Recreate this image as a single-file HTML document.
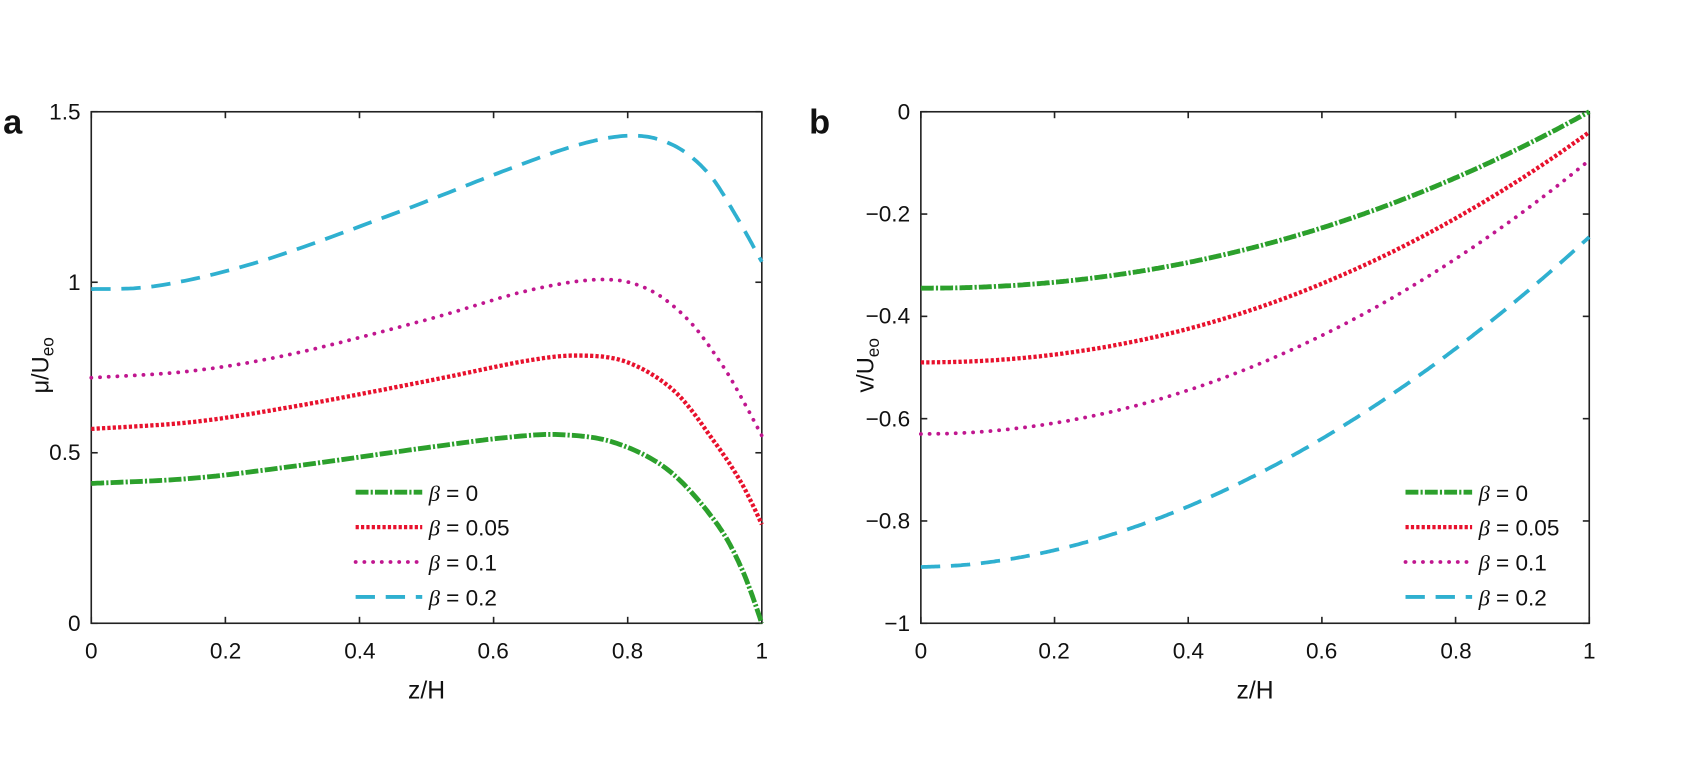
<!DOCTYPE html><html><head><style>body{margin:0;background:#fff}svg{display:block}text{font-family:"Liberation Sans",sans-serif;fill:#111}</style></head><body>
<svg id="s" width="1685" height="765" xmlns="http://www.w3.org/2000/svg">
<g id="root" transform="translate(1,0) scale(1.0746)">
<g stroke="#222" stroke-width="1.5" fill="none">
<rect x="84" y="104" width="624" height="476"/>
<rect x="856" y="104" width="622" height="476"/>
</g>
<g id="ticks" stroke="#222" stroke-width="1.5"></g>
<g font-size="21" text-anchor="middle">
<text x="84" y="613">0</text><text x="209" y="613">0.2</text><text x="334" y="613">0.4</text><text x="458" y="613">0.6</text><text x="583" y="613">0.8</text><text x="708" y="613">1</text>
<text x="856" y="613">0</text><text x="980" y="613">0.2</text><text x="1105" y="613">0.4</text><text x="1229" y="613">0.6</text><text x="1354" y="613">0.8</text><text x="1478" y="613">1</text>
<text x="396" y="650" font-size="23">z/H</text><text x="1167" y="650" font-size="23">z/H</text>
</g>
<g font-size="21" text-anchor="end">
<text x="74" y="111">1.5</text><text x="74" y="270">1</text><text x="74" y="428">0.5</text><text x="74" y="587">0</text>
<text x="846" y="111">0</text><text x="846" y="206">−0.2</text><text x="846" y="301">−0.4</text><text x="846" y="397">−0.6</text><text x="846" y="492">−0.8</text><text x="846" y="587">−1</text>
</g>
<text transform="translate(44,340) rotate(-90)" font-size="22" text-anchor="middle">μ/U<tspan font-size="16" dy="5">eo</tspan></text>
<text transform="translate(812,340) rotate(-90)" font-size="22" text-anchor="middle">v/U<tspan font-size="16" dy="5">eo</tspan></text>
<text x="2" y="124" font-size="32" font-weight="bold">a</text>
<text x="752" y="124" font-size="32" font-weight="bold">b</text>
<g id="curves" fill="none"></g>
<g font-size="21"><g id="leg"></g></g>
</g>
</svg>
<script>
const NS="http://www.w3.org/2000/svg";
function el(p,t,a){const e=document.createElementNS(NS,t);for(const k in a)e.setAttribute(k,a[k]);p.appendChild(e);return e;}
const tk=document.getElementById('ticks');
for(let i=0;i<=5;i++){const x=84+i*124.8,x2=856+i*124.4;
el(tk,'line',{x1:x,y1:580,x2:x,y2:574});el(tk,'line',{x1:x,y1:104,x2:x,y2:110});
el(tk,'line',{x1:x2,y1:580,x2:x2,y2:574});el(tk,'line',{x1:x2,y1:104,x2:x2,y2:110});}
for(let i=0;i<=3;i++){const y=580-i*158.67;el(tk,'line',{x1:84,y1:y,x2:90,y2:y});el(tk,'line',{x1:708,y1:y,x2:702,y2:y});}
for(let i=0;i<=5;i++){const y=104+i*95.2;el(tk,'line',{x1:856,y1:y,x2:862,y2:y});el(tk,'line',{x1:1478,y1:y,x2:1472,y2:y});}
function cr(pts,n){const out=[];for(let i=0;i<pts.length-1;i++){const p0=pts[Math.max(0,i-1)],p1=pts[i],p2=pts[i+1],p3=pts[Math.min(pts.length-1,i+2)];
for(let k=0;k<n;k++){const t=k/n,t2=t*t,t3=t2*t;const f=(a,b,c,d)=>0.5*(2*b+(-a+c)*t+(2*a-5*b+4*c-d)*t2+(-a+3*b-3*c+d)*t3);out.push([f(p0[0],p1[0],p2[0],p3[0]),f(p0[1],p1[1],p2[1],p3[1])]);}}out.push(pts[pts.length-1]);return out;}
const styles={g:{stroke:'#2ca02c','stroke-width':4.5,'stroke-dasharray':'12 2 2 2'},r:{stroke:'#e8112d','stroke-width':4,'stroke-dasharray':'3 2'},m:{stroke:'#c0168f','stroke-width':3.5,'stroke-dasharray':'0.1 8','stroke-linecap':'round'},c:{stroke:'#2fb0d0','stroke-width':3.5,'stroke-dasharray':'18 10'}};
const cv=document.getElementById('curves');
function draw(data,st,X,Y){const p=cr(data,20).map(q=>[X(q[0]),Y(q[1])]);el(cv,'path',Object.assign({d:'M'+p.map(q=>q[0].toFixed(1)+','+q[1].toFixed(1)).join('L')},st));}
const XL=z=>84+624*z,YL=v=>580-v*317.33,XR=z=>856+622*z,YR=v=>104-v*476;
draw([[0,0.41],[0.15,0.425],[0.3,0.46],[0.5,0.515],[0.62,0.545],[0.7,0.553],[0.78,0.53],[0.86,0.45],[0.93,0.3],[0.97,0.16],[1,0]],styles.g,XL,YL);
draw([[0,0.57],[0.15,0.59],[0.3,0.635],[0.5,0.71],[0.65,0.77],[0.73,0.785],[0.8,0.765],[0.87,0.68],[0.93,0.53],[0.97,0.41],[1,0.29]],styles.r,XL,YL);
draw([[0,0.72],[0.15,0.74],[0.3,0.79],[0.5,0.89],[0.65,0.975],[0.76,1.008],[0.83,0.98],[0.89,0.89],[0.94,0.76],[0.97,0.66],[1,0.55]],styles.m,XL,YL);
draw([[0,0.98],[0.1,0.99],[0.25,1.06],[0.45,1.2],[0.62,1.33],[0.73,1.405],[0.81,1.43],[0.87,1.4],[0.92,1.32],[0.96,1.2],[1,1.06]],styles.c,XL,YL);
function prof(v0,v1,p){const a=[];for(let i=0;i<=20;i++){const z=i/20;a.push([z,v0+(v1-v0)*Math.pow(z,p)]);}return a;}
draw(prof(-0.345,0,2.1),styles.g,XR,YR);
draw(prof(-0.49,-0.04,2.1),styles.r,XR,YR);
draw(prof(-0.63,-0.095,2.0),styles.m,XR,YR);
draw(prof(-0.89,-0.245,1.85),styles.c,XR,YR);
const lg=document.getElementById('leg');const labs=['0','0.05','0.1','0.2'],ks=['g','r','m','c'];
function legend(x,y0){for(let i=0;i<4;i++){const y=y0+i*32.5;el(lg,'line',Object.assign({x1:x,y1:y,x2:x+62,y2:y},styles[ks[i]]));
const t=el(lg,'text',{x:x+68,y:y+8});t.innerHTML='<tspan font-style="italic" font-family="Liberation Serif">β</tspan> = '+labs[i];}}
legend(330,458);legend(1307,458);
</script>
</body></html>
